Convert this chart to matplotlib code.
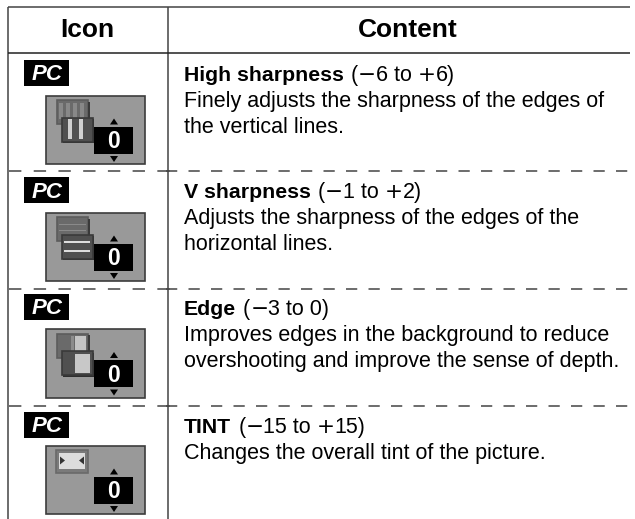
import re
import matplotlib
matplotlib.use("Agg")
import matplotlib.pyplot as plt
from matplotlib.patches import Rectangle, Polygon

plt.rcParams['font.family'] = ['Liberation Sans', 'DejaVu Sans']
plt.rcParams['lines.scale_dashes'] = False

headers = ["Icon", "Content"]
badge = "PC"
titles = ["High sharpness", "V sharpness", "Edge", "TINT"]
ranges = ["(\u22126 to +6)", "(\u22121 to +2)", "(\u22123 to 0)", "(\u221215 to +15)"]
descriptions = [
    ["Finely adjusts the sharpness of the edges of", "the vertical lines."],
    ["Adjusts the sharpness of the edges of the", "horizontal lines."],
    ["Improves edges in the background to reduce", "overshooting and improve the sense of depth."],
    ["Changes the overall tint of the picture."],
]
icon_kinds = ["vertical", "horizontal", "edge", "tint"]
icon_value = "0"

row_tops = [53, 171, 288.5, 406]
icon_tops = [95.5, 212.5, 329, 445.5]
badge_tops = [60, 177, 294, 412]
LINE = "#444444"
FS = 15.5
FS_B = 15.3

fig = plt.figure(figsize=(6.35, 5.19), dpi=100)
ax = fig.add_axes([0, 0, 1, 1])
ax.set_xlim(0, 635)
ax.set_ylim(519, 0)
ax.axis("off")


def rect(x, y, w, h, fc, ec="none", lw=0, z=2):
    ax.add_patch(Rectangle((x, y), w, h, fc=fc, ec=ec, lw=lw, zorder=z))


def back_tile(x0, y0, z=3):
    rect(x0 + 11, y0 + 4.5, 31, 24, "#6a6a6a", "#5c5c5c", 1.2, z)
    rect(x0 + 42, y0 + 6, 1.5, 22, "#3a3a3a", z=z)


def front_tile(x0, y0, z=4):
    rect(x0 + 17, y0 + 23.5, 31, 24, "#2e2e2e", z=z)       # shadow
    rect(x0 + 15.5, y0 + 22, 31, 24, "#505050", "#3a3a3a", 1.2, z)


def draw_icon(kind, x0, y0):
    rect(x0, y0, 98.5, 68.5, "#999999", "#3c3c3c", 1.2, 2)
    # spinner
    rect(x0 + 48, y0 + 31, 38.5, 27, "black", z=5)
    ax.text(x0 + 67, y0 + 52.5, icon_value, color="white", fontsize=16.5, fontweight="bold",
            ha="center", va="baseline", zorder=6)
    ax.add_patch(Polygon([[x0 + 64, y0 + 29], [x0 + 72, y0 + 29], [x0 + 68, y0 + 23]], fc="black", zorder=5))
    ax.add_patch(Polygon([[x0 + 64, y0 + 60.5], [x0 + 72, y0 + 60.5], [x0 + 68, y0 + 66.5]], fc="black", zorder=5))
    if kind == "vertical":
        back_tile(x0, y0)
        for dx in (13, 20, 27, 34):
            rect(x0 + dx, y0 + 7, 3.5, 16, "#888888", z=3)
        front_tile(x0, y0)
        for dx in (22, 33):
            rect(x0 + dx, y0 + 23.5, 4, 20, "#d0d0d0", z=4)
    elif kind == "horizontal":
        back_tile(x0, y0)
        for dy in (11, 17):
            rect(x0 + 13, y0 + dy, 27, 1.5, "#8a8a8a", z=3)
        front_tile(x0, y0)
        for dy in (28, 37):
            rect(x0 + 18, y0 + dy, 26, 2.2, "#dddddd", z=4)
    elif kind == "edge":
        back_tile(x0, y0)
        rect(x0 + 25, y0 + 7, 3, 15, "#8c8c8c", z=3)
        rect(x0 + 29, y0 + 7, 11, 15, "#c4c4c4", z=3)
        front_tile(x0, y0)
        rect(x0 + 29, y0 + 24.5, 15, 19, "#c8c8c8", z=4)
    else:
        rect(x0 + 10, y0 + 4.5, 32, 23, "#7a7a7a", "#6a6a6a", 1.2, 3)
        rect(x0 + 13, y0 + 7, 26, 16, "#dcdcdc", z=3)
        yc = y0 + 15
        ax.add_patch(Polygon([[x0 + 14, yc - 4], [x0 + 14, yc + 4], [x0 + 19, yc]], fc="#333333", zorder=4))
        ax.add_patch(Polygon([[x0 + 38, yc - 4], [x0 + 38, yc + 4], [x0 + 33, yc]], fc="#333333", zorder=4))


# table rules
ax.plot([8, 8], [6.5, 519], color=LINE, lw=1.1, solid_capstyle="butt")
ax.plot([168, 168], [6.5, 519], color=LINE, lw=1.1, solid_capstyle="butt")
ax.plot([8, 630], [6.5, 6.5], color=LINE, lw=1.1, solid_capstyle="butt")
ax.plot([8, 630], [53, 53], color="#222222", lw=1.1, solid_capstyle="butt")
for y in row_tops[1:]:
    ax.plot([9, 170], [y, y], color=LINE, lw=1.1, dashes=(8.9, 8.9), dash_capstyle="butt")
    ax.plot([166, 628], [y, y], color=LINE, lw=1.1, dashes=(8.1, 8.1), dash_capstyle="butt")

# headers
ax.text(87, 37, headers[0], fontsize=19, fontweight="bold", ha="center", va="baseline")
ax.text(408, 37, headers[1], fontsize=19, fontweight="bold", ha="center", va="baseline")

fig.canvas.draw()
rend = fig.canvas.get_renderer()
inv = ax.transData.inverted()


def right_edge(t):
    bb = t.get_window_extent(rend)
    return inv.transform((bb.x1, 0))[0]


def draw_range(x, y, s):
    # the signs are wide, symbol-font glyphs in the reference
    space = FS * 100 / 72 * 0.278
    for part in re.split("([\u2212+])", s):
        if not part:
            continue
        fam = "DejaVu Sans" if part in "\u2212+" else "Liberation Sans"
        leading = len(part) - len(part.lstrip(" "))
        trailing = len(part) - len(part.rstrip(" "))
        x += leading * space
        t = ax.text(x, y, part.strip(" "), fontsize=FS, family=fam, ha="left", va="baseline")
        x = right_edge(t) + trailing * space


for i in range(4):
    # badge
    rect(23.5, badge_tops[i], 45.5, 26, "black", z=3)
    ax.text(47, badge_tops[i] + 20.5, badge, color="white", fontsize=16, fontweight="bold",
            fontstyle="italic", ha="center", va="baseline", zorder=4)
    draw_icon(icon_kinds[i], 46, icon_tops[i])
    # text
    ty = badge_tops[i] + 21
    t = ax.text(184, ty, titles[i], fontsize=FS_B, fontweight="bold", ha="left", va="baseline")
    draw_range(right_edge(t) + 7, ty, ranges[i])
    for j, line in enumerate(descriptions[i]):
        ax.text(184, ty + 26 * (j + 1), line, fontsize=FS, ha="left", va="baseline")

fig.savefig("out.png", dpi=100)
